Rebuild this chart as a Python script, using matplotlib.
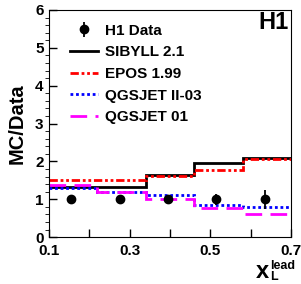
import numpy as np
import matplotlib.pyplot as plt
from matplotlib.ticker import MultipleLocator

plt.rcParams['font.family'] = ['Liberation Sans', 'DejaVu Sans']
plt.rcParams['font.weight'] = 'bold'

# bin edges in x_L
edges = [0.1, 0.22, 0.34, 0.46, 0.58, 0.7]
# data points
x_data = [0.155, 0.275, 0.395, 0.515, 0.635]
y_data = [1.0, 1.0, 1.0, 1.0, 1.0]
y_err = [0.05, 0.07, 0.1, 0.15, 0.25]
# MC / Data ratios per bin
sibyll = [1.33, 1.33, 1.64, 1.96, 2.10]
epos = [1.50, 1.50, 1.62, 1.76, 2.06]
qgsjet2 = [1.30, 1.20, 1.10, 0.84, 0.80]
qgsjet01 = [1.38, 1.18, 1.00, 0.78, 0.61]


def step(ax, vals, **kw):
    ax.stairs(vals, edges, baseline=None, **kw)


fig = plt.figure(figsize=(3.01, 2.84), dpi=100)
ax = fig.add_axes([0.163, 0.165, 0.804, 0.8])

step(ax, sibyll, color='black', lw=2, label='SIBYLL 2.1')
step(ax, epos, color='red', lw=2, ls=(0, (3, 1, 1, 1, 1, 1)), label='EPOS 1.99')
step(ax, qgsjet2, color='blue', lw=2, ls=(0, (1, 1)), label='QGSJET II-03')
step(ax, qgsjet01, color='magenta', lw=2, ls=(0, (6, 3)), label='QGSJET 01')
ax.errorbar(x_data, y_data, yerr=y_err, fmt='o', color='black', ms=6,
            elinewidth=1.3, capsize=0, label='H1 Data', zorder=5)

ax.set_xlim(0.1, 0.7)
ax.set_ylim(0, 6)
ax.yaxis.set_major_locator(MultipleLocator(1))
ax.yaxis.set_minor_locator(MultipleLocator(0.2))
ax.set_xticks([0.1, 0.2, 0.3, 0.4, 0.5, 0.6, 0.7])
ax.set_xticklabels(['0.1', '', '0.3', '', '0.5', '', '0.7'])
ax.tick_params(direction='in', labelsize=11, width=1)
ax.tick_params(axis='x', which='major', length=6, pad=5)
ax.tick_params(axis='y', which='major', length=6, pad=4)
ax.tick_params(axis='y', which='minor', length=3)
for lbl in ax.get_xticklabels() + ax.get_yticklabels():
    lbl.set_fontweight('bold')

ax.set_ylabel('MC/Data', fontsize=14.5, fontweight='bold', labelpad=6)

# x label: x_L^lead built from three texts
fig.text(256 / 301, 6 / 284, 'x', ha='left', va='baseline', fontsize=17,
         fontweight='bold')
fig.text(270 / 301, 15 / 284, 'lead', ha='left', va='baseline', fontsize=9,
         fontweight='bold')
fig.text(270 / 301, 3.5 / 284, 'L', ha='left', va='baseline', fontsize=9,
         fontweight='bold')

ax.text(0.99, 0.995, 'H1', transform=ax.transAxes, ha='right', va='top',
        fontsize=17, fontweight='bold')

h, l = ax.get_legend_handles_labels()
order = [4, 0, 1, 2, 3]
ax.legend([h[i] for i in order], [l[i] for i in order], loc='upper left',
          bbox_to_anchor=(0.03, 1.0), frameon=False,
          handlelength=1.8, labelspacing=0.5, handletextpad=0.5,
          prop={'weight': 'bold', 'size': 11})

fig.savefig('out.png', dpi=100)
